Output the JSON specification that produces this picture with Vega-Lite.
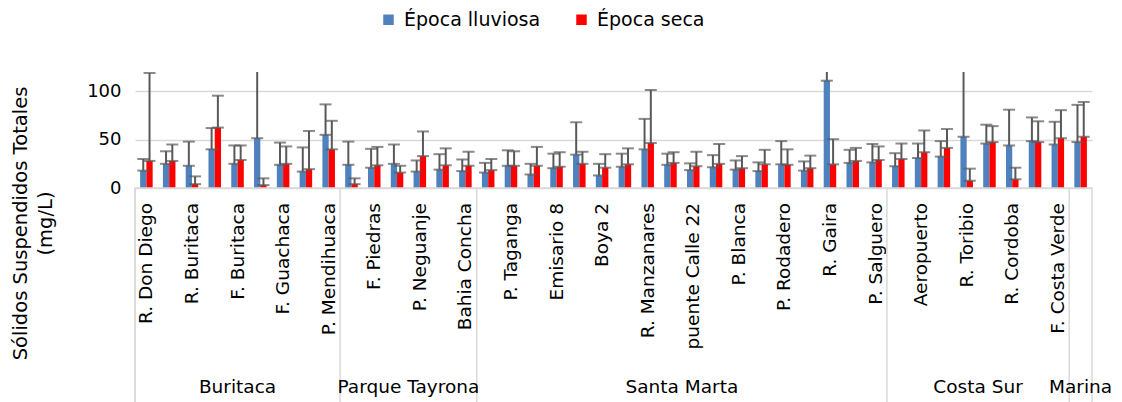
{
  "$schema": "https://vega.github.io/schema/vega-lite/v6.json",
  "config": {"font": "DejaVu Sans", "view": {"stroke": null}},
  "padding": {"left": 10, "top": 10, "right": 0, "bottom": 0},
  "spacing": 0,
  "bounds": "flush",
  "datasets": {
    "sst": [
      {"n":1,"sitio":"R. Don Diego","zona":"Buritaca","epoca":"Época lluviosa","sst":18,"sup":30},
      {"n":1,"sitio":"R. Don Diego","zona":"Buritaca","epoca":"Época seca","sst":28,"sup":119},
      {"n":2,"sitio":"Estación 02","zona":"Buritaca","epoca":"Época lluviosa","sst":25,"sup":38},
      {"n":2,"sitio":"Estación 02","zona":"Buritaca","epoca":"Época seca","sst":28,"sup":45},
      {"n":3,"sitio":"R. Buritaca","zona":"Buritaca","epoca":"Época lluviosa","sst":23,"sup":48},
      {"n":3,"sitio":"R. Buritaca","zona":"Buritaca","epoca":"Época seca","sst":4,"sup":12},
      {"n":4,"sitio":"Estación 04","zona":"Buritaca","epoca":"Época lluviosa","sst":40,"sup":62},
      {"n":4,"sitio":"Estación 04","zona":"Buritaca","epoca":"Época seca","sst":62.5,"sup":95.5},
      {"n":5,"sitio":"F. Buritaca","zona":"Buritaca","epoca":"Época lluviosa","sst":25,"sup":44},
      {"n":5,"sitio":"F. Buritaca","zona":"Buritaca","epoca":"Época seca","sst":29,"sup":44},
      {"n":6,"sitio":"Estación 06","zona":"Buritaca","epoca":"Época lluviosa","sst":51.5,"sup":150},
      {"n":6,"sitio":"Estación 06","zona":"Buritaca","epoca":"Época seca","sst":3,"sup":10},
      {"n":7,"sitio":"F. Guachaca","zona":"Buritaca","epoca":"Época lluviosa","sst":24,"sup":47},
      {"n":7,"sitio":"F. Guachaca","zona":"Buritaca","epoca":"Época seca","sst":25,"sup":43},
      {"n":8,"sitio":"Estación 08","zona":"Buritaca","epoca":"Época lluviosa","sst":17,"sup":42},
      {"n":8,"sitio":"Estación 08","zona":"Buritaca","epoca":"Época seca","sst":19.5,"sup":59},
      {"n":9,"sitio":"P. Mendihuaca","zona":"Buritaca","epoca":"Época lluviosa","sst":55,"sup":86.5},
      {"n":9,"sitio":"P. Mendihuaca","zona":"Buritaca","epoca":"Época seca","sst":40,"sup":69.5},
      {"n":10,"sitio":"Estación 10","zona":"Parque Tayrona","epoca":"Época lluviosa","sst":24,"sup":48},
      {"n":10,"sitio":"Estación 10","zona":"Parque Tayrona","epoca":"Época seca","sst":4,"sup":10},
      {"n":11,"sitio":"F. Piedras","zona":"Parque Tayrona","epoca":"Época lluviosa","sst":21,"sup":40.5},
      {"n":11,"sitio":"F. Piedras","zona":"Parque Tayrona","epoca":"Época seca","sst":23.5,"sup":42.5},
      {"n":12,"sitio":"Estación 12","zona":"Parque Tayrona","epoca":"Época lluviosa","sst":25,"sup":45},
      {"n":12,"sitio":"Estación 12","zona":"Parque Tayrona","epoca":"Época seca","sst":16,"sup":23},
      {"n":13,"sitio":"P. Neguanje","zona":"Parque Tayrona","epoca":"Época lluviosa","sst":17,"sup":28.5},
      {"n":13,"sitio":"P. Neguanje","zona":"Parque Tayrona","epoca":"Época seca","sst":33,"sup":58.5},
      {"n":14,"sitio":"Estación 14","zona":"Parque Tayrona","epoca":"Época lluviosa","sst":19,"sup":35},
      {"n":14,"sitio":"Estación 14","zona":"Parque Tayrona","epoca":"Época seca","sst":23.5,"sup":41},
      {"n":15,"sitio":"Bahia Concha","zona":"Parque Tayrona","epoca":"Época lluviosa","sst":17.5,"sup":29.5},
      {"n":15,"sitio":"Bahia Concha","zona":"Parque Tayrona","epoca":"Época seca","sst":23,"sup":37.5},
      {"n":16,"sitio":"Estación 16","zona":"Santa Marta","epoca":"Época lluviosa","sst":16,"sup":26},
      {"n":16,"sitio":"Estación 16","zona":"Santa Marta","epoca":"Época seca","sst":18.5,"sup":30},
      {"n":17,"sitio":"P. Taganga","zona":"Santa Marta","epoca":"Época lluviosa","sst":23,"sup":39},
      {"n":17,"sitio":"P. Taganga","zona":"Santa Marta","epoca":"Época seca","sst":23,"sup":38},
      {"n":18,"sitio":"Estación 18","zona":"Santa Marta","epoca":"Época lluviosa","sst":14,"sup":25},
      {"n":18,"sitio":"Estación 18","zona":"Santa Marta","epoca":"Época seca","sst":23,"sup":42.5},
      {"n":19,"sitio":"Emisario 8","zona":"Santa Marta","epoca":"Época lluviosa","sst":20.5,"sup":35.5},
      {"n":19,"sitio":"Emisario 8","zona":"Santa Marta","epoca":"Época seca","sst":22,"sup":37},
      {"n":20,"sitio":"Estación 20","zona":"Santa Marta","epoca":"Época lluviosa","sst":34.5,"sup":68},
      {"n":20,"sitio":"Estación 20","zona":"Santa Marta","epoca":"Época seca","sst":25,"sup":37.5},
      {"n":21,"sitio":"Boya 2","zona":"Santa Marta","epoca":"Época lluviosa","sst":13,"sup":25},
      {"n":21,"sitio":"Boya 2","zona":"Santa Marta","epoca":"Época seca","sst":21,"sup":35},
      {"n":22,"sitio":"Estación 22","zona":"Santa Marta","epoca":"Época lluviosa","sst":22,"sup":35.5},
      {"n":22,"sitio":"Estación 22","zona":"Santa Marta","epoca":"Época seca","sst":24.5,"sup":41},
      {"n":23,"sitio":"R. Manzanares","zona":"Santa Marta","epoca":"Época lluviosa","sst":40,"sup":71.5},
      {"n":23,"sitio":"R. Manzanares","zona":"Santa Marta","epoca":"Época seca","sst":46.5,"sup":101.5},
      {"n":24,"sitio":"Estación 24","zona":"Santa Marta","epoca":"Época lluviosa","sst":24,"sup":35.5},
      {"n":24,"sitio":"Estación 24","zona":"Santa Marta","epoca":"Época seca","sst":26,"sup":37},
      {"n":25,"sitio":"puente Calle 22","zona":"Santa Marta","epoca":"Época lluviosa","sst":18.5,"sup":25.5},
      {"n":25,"sitio":"puente Calle 22","zona":"Santa Marta","epoca":"Época seca","sst":22.5,"sup":37.5},
      {"n":26,"sitio":"Estación 26","zona":"Santa Marta","epoca":"Época lluviosa","sst":21.5,"sup":34},
      {"n":26,"sitio":"Estación 26","zona":"Santa Marta","epoca":"Época seca","sst":25,"sup":45.5},
      {"n":27,"sitio":"P. Blanca","zona":"Santa Marta","epoca":"Época lluviosa","sst":19,"sup":28.5},
      {"n":27,"sitio":"P. Blanca","zona":"Santa Marta","epoca":"Época seca","sst":20.5,"sup":33},
      {"n":28,"sitio":"Estación 28","zona":"Santa Marta","epoca":"Época lluviosa","sst":17.5,"sup":26.5},
      {"n":28,"sitio":"Estación 28","zona":"Santa Marta","epoca":"Época seca","sst":24.5,"sup":39.5},
      {"n":29,"sitio":"P. Rodadero","zona":"Santa Marta","epoca":"Época lluviosa","sst":24.5,"sup":48.5},
      {"n":29,"sitio":"P. Rodadero","zona":"Santa Marta","epoca":"Época seca","sst":24,"sup":40},
      {"n":30,"sitio":"Estación 30","zona":"Santa Marta","epoca":"Época lluviosa","sst":18,"sup":27.5},
      {"n":30,"sitio":"Estación 30","zona":"Santa Marta","epoca":"Época seca","sst":20.5,"sup":33.5},
      {"n":31,"sitio":"R. Gaira","zona":"Santa Marta","epoca":"Época lluviosa","sst":111,"sup":140},
      {"n":31,"sitio":"R. Gaira","zona":"Santa Marta","epoca":"Época seca","sst":24.5,"sup":50.5},
      {"n":32,"sitio":"Estación 32","zona":"Santa Marta","epoca":"Época lluviosa","sst":26,"sup":39.5},
      {"n":32,"sitio":"Estación 32","zona":"Santa Marta","epoca":"Época seca","sst":28,"sup":41.5},
      {"n":33,"sitio":"P. Salguero","zona":"Santa Marta","epoca":"Época lluviosa","sst":26.5,"sup":45.5},
      {"n":33,"sitio":"P. Salguero","zona":"Santa Marta","epoca":"Época seca","sst":29,"sup":43},
      {"n":34,"sitio":"Estación 34","zona":"Costa Sur","epoca":"Época lluviosa","sst":22.5,"sup":36},
      {"n":34,"sitio":"Estación 34","zona":"Costa Sur","epoca":"Época seca","sst":30,"sup":46},
      {"n":35,"sitio":"Aeropuerto","zona":"Costa Sur","epoca":"Época lluviosa","sst":31,"sup":46},
      {"n":35,"sitio":"Aeropuerto","zona":"Costa Sur","epoca":"Época seca","sst":37,"sup":59.5},
      {"n":36,"sitio":"Estación 36","zona":"Costa Sur","epoca":"Época lluviosa","sst":32.5,"sup":48.5},
      {"n":36,"sitio":"Estación 36","zona":"Costa Sur","epoca":"Época seca","sst":41.5,"sup":61},
      {"n":37,"sitio":"R. Toribio","zona":"Costa Sur","epoca":"Época lluviosa","sst":53,"sup":170},
      {"n":37,"sitio":"R. Toribio","zona":"Costa Sur","epoca":"Época seca","sst":7.5,"sup":20},
      {"n":38,"sitio":"Estación 38","zona":"Costa Sur","epoca":"Época lluviosa","sst":46,"sup":65.5},
      {"n":38,"sitio":"Estación 38","zona":"Costa Sur","epoca":"Época seca","sst":47.5,"sup":64},
      {"n":39,"sitio":"R. Cordoba","zona":"Costa Sur","epoca":"Época lluviosa","sst":44,"sup":81},
      {"n":39,"sitio":"R. Cordoba","zona":"Costa Sur","epoca":"Época seca","sst":9,"sup":21},
      {"n":40,"sitio":"Estación 40","zona":"Costa Sur","epoca":"Época lluviosa","sst":48.5,"sup":73},
      {"n":40,"sitio":"Estación 40","zona":"Costa Sur","epoca":"Época seca","sst":47.5,"sup":69},
      {"n":41,"sitio":"F. Costa Verde","zona":"Costa Sur","epoca":"Época lluviosa","sst":45,"sup":68.5},
      {"n":41,"sitio":"F. Costa Verde","zona":"Costa Sur","epoca":"Época seca","sst":51.5,"sup":80.5},
      {"n":42,"sitio":"Estación 42","zona":"Marina","epoca":"Época lluviosa","sst":47.5,"sup":86},
      {"n":42,"sitio":"Estación 42","zona":"Marina","epoca":"Época seca","sst":53,"sup":89}
    ]
  },
  "vconcat": [
    {
      "width": 957,
      "height": 116,
      "data": {"name": "sst"},
      "encoding": {
        "x": {"field": "sitio", "type": "nominal", "sort": {"field": "n"}, "scale": {"paddingInner": 0.45, "paddingOuter": 0.225}, "axis": null},
        "xOffset": {"field": "epoca", "type": "nominal", "sort": ["Época lluviosa", "Época seca"]}
      },
      "layer": [
        {
          "mark": {"type": "bar", "clip": true},
          "encoding": {
            "y": {
              "field": "sst", "type": "quantitative",
              "scale": {"domain": [0, 120], "nice": false},
              "axis": {
                "values": [0, 25, 50, 75, 100],
                "domain": false, "ticks": false, "grid": true,
                "gridColor": "#d9d9d9", "gridWidth": 1.5,
                "labelFontSize": 18, "labelPadding": 14, "labelColor": "#000000",
                "title": ["Sólidos Suspendidos Totales", "(mg/L)"],
                "titleFontSize": 19.5, "titleFontWeight": "normal", "titleColor": "#000000",
                "titleLineHeight": 25, "titleAngle": 270, "titleAlign": "center", "titleBaseline": "middle",
                "titleX": -115, "titleY": 151
              }
            },
            "color": {
              "field": "epoca", "type": "nominal",
              "scale": {"domain": ["Época lluviosa", "Época seca"], "range": ["#4f81bd", "#ff0000"]},
              "legend": {
                "orient": "none", "legendX": 244, "legendY": -62,
                "direction": "horizontal", "title": null,
                "symbolType": "square", "symbolSize": 110, "symbolStrokeWidth": 0,
                "labelFontSize": 19, "labelColor": "#000000", "columnPadding": 31, "labelOffset": 6
              }
            }
          }
        },
        {
          "mark": {"type": "rule", "clip": true, "color": "#595959", "strokeWidth": 2},
          "encoding": {
            "y": {"field": "sst", "type": "quantitative"},
            "y2": {"field": "sup"}
          }
        },
        {
          "mark": {"type": "tick", "clip": true, "color": "#595959", "thickness": 2, "size": 12, "orient": "horizontal"},
          "encoding": {"y": {"field": "sst", "type": "quantitative"}}
        },
        {
          "mark": {"type": "tick", "clip": true, "color": "#595959", "thickness": 2, "size": 12, "orient": "horizontal"},
          "encoding": {"y": {"field": "sup", "type": "quantitative"}}
        }
      ]
    },
    {
      "width": 957,
      "height": 215,
      "view": {"stroke": "#d9d9d9", "strokeWidth": 1.5},
      "data": {"name": "sst"},
      "layer": [
        {
          "transform": [{"filter": "datum.epoca == 'Época lluviosa'"}],
          "mark": {"type": "text", "angle": 270, "align": "right", "baseline": "middle", "dx": -15, "fontSize": 18.5, "color": "#000000"},
          "encoding": {
            "x": {"field": "sitio", "type": "nominal", "sort": {"field": "n"}, "scale": {"paddingInner": 0, "paddingOuter": 0}, "axis": null},
            "y": {"datum": 1, "type": "quantitative", "scale": {"domain": [0, 1]}, "axis": null},
            "text": {"condition": {"test": "datum.n % 2 == 1", "field": "sitio"}, "value": ""}
          }
        },
        {
          "transform": [{"aggregate": [{"op": "min", "field": "n", "as": "inicio"}], "groupby": ["zona"]}],
          "mark": {"type": "rule", "color": "#d9d9d9", "strokeWidth": 1.5},
          "encoding": {
            "x": {"field": "inicio", "type": "quantitative", "scale": {"domain": [1, 43], "nice": false, "zero": false}, "axis": null}
          }
        },
        {
          "transform": [{"aggregate": [{"op": "mean", "field": "n", "as": "centro"}], "groupby": ["zona"]}],
          "mark": {"type": "text", "baseline": "alphabetic", "align": "center", "dy": -10, "fontSize": 18.5, "color": "#000000"},
          "encoding": {
            "x": {"field": "centro", "type": "quantitative", "scale": {"domain": [0.5, 42.5], "nice": false, "zero": false}, "axis": null},
            "y": {"datum": 0, "type": "quantitative"},
            "text": {"field": "zona"}
          }
        }
      ],
      "resolve": {"scale": {"x": "independent"}}
    }
  ]
}
